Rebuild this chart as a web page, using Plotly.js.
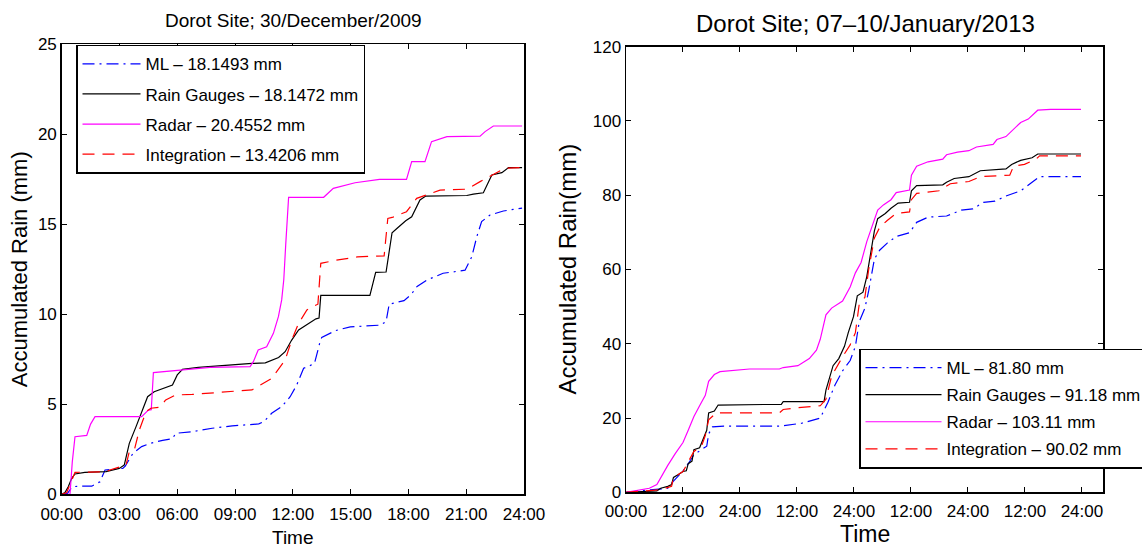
<!DOCTYPE html>
<html>
<head>
<meta charset="utf-8">
<script src="https://cdn.plot.ly/plotly-3.0.1.min.js"></script>
<style>html,body{margin:0;padding:0;background:#fff}#chart{width:1142px;height:549px}</style>
</head>
<body>
<div id="chart"></div>
<script>
// ---------- Left panel: Dorot Site; 30/December/2009 (hours 0..24) ----------
const leftTickVals = [0, 3, 6, 9, 12, 15, 18, 21, 24];
const leftTickText = ["00:00", "03:00", "06:00", "09:00", "12:00", "15:00", "18:00", "21:00", "24:00"];

const leftMLTime = [0, 0.3, 0.55, 0.9, 1.56, 1.99, 2.25, 3.17, 3.3, 3.7, 4.15, 4.6, 5.24, 5.75, 5.92, 6.78, 7.81, 8.85, 10.23, 10.5, 10.9, 11.42, 11.86, 12.2, 12.56, 13.12, 13.4, 13.5, 14.23, 14.98, 16.56, 16.84, 17.0, 17.77, 18.14, 18.45, 18.95, 19.8, 20.94, 21.29, 21.55, 21.8, 22.24, 22.93, 23.9];
const leftMLRain = [0, 0.05, 0.42, 0.45, 0.45, 0.7, 1.35, 1.44, 1.57, 2.28, 2.65, 2.83, 3.0, 3.09, 3.39, 3.48, 3.67, 3.8, 3.91, 4.04, 4.5, 4.87, 5.42, 6.07, 7.0, 7.26, 8.42, 8.72, 9.1, 9.3, 9.4, 9.6, 10.56, 10.76, 11.1, 11.55, 11.9, 12.28, 12.45, 13.2, 14.31, 15.15, 15.52, 15.74, 15.9];

const leftGaugeTime = [0, 0.17, 0.34, 0.52, 0.69, 1.03, 1.2, 2.3, 2.99, 3.25, 3.51, 3.86, 4.2, 4.46, 4.8, 5.24, 5.75, 6.0, 6.27, 7.1, 8.5, 9.88, 10.57, 10.9, 11.26, 11.6, 11.94, 12.3, 12.82, 13.2, 13.36, 13.45, 16.0, 16.3, 16.84, 17.15, 17.4, 17.86, 18.17, 18.6, 18.9, 21.03, 21.37, 21.89, 22.33, 22.85, 23.2, 23.9];
const leftGaugeRain = [0, 0.1, 0.42, 0.89, 1.13, 1.17, 1.22, 1.26, 1.44, 1.63, 2.83, 3.76, 4.68, 5.42, 5.7, 5.89, 6.07, 6.63, 6.94, 7.05, 7.18, 7.27, 7.3, 7.46, 7.6, 7.92, 8.57, 9.13, 9.5, 9.75, 9.79, 11.05, 11.05, 12.33, 12.35, 14.53, 14.77, 15.2, 15.42, 16.35, 16.57, 16.6, 16.68, 16.75, 17.74, 17.87, 18.15, 18.15];

const leftRadarTime = [0, 0.43, 0.55, 0.69, 1.3, 1.5, 1.73, 4.15, 4.5, 4.65, 4.76, 6.14, 7.7, 9.78, 9.95, 10.2, 10.64, 10.99, 11.25, 11.42, 11.53, 11.63, 11.78, 13.6, 14.1, 15.23, 16.5, 17.9, 18.17, 18.86, 19.2, 20.0, 21.72, 21.98, 22.41, 23.9];
const leftRadarRain = [0, 0, 1.8, 3.2, 3.27, 3.9, 4.31, 4.31, 4.68, 4.7, 6.76, 6.9, 7.05, 7.09, 7.37, 8.02, 8.2, 8.94, 9.87, 10.8, 11.93, 13.87, 16.5, 16.5, 17.0, 17.31, 17.5, 17.5, 18.48, 18.48, 19.59, 19.87, 19.9, 20.15, 20.46, 20.46];

const leftIntegTime = [0, 0.26, 0.69, 2.3, 2.5, 3.17, 3.34, 3.51, 3.77, 4.03, 4.38, 4.63, 5.07, 5.4, 5.92, 6.78, 8.5, 9.88, 10.23, 10.9, 11.6, 11.94, 12.3, 12.73, 12.93, 13.3, 13.45, 14.23, 15.35, 16.74, 16.93, 17.2, 17.9, 18.43, 19.64, 21.03, 21.72, 22.33, 23.0, 23.9];
const leftIntegRain = [0, 0.1, 1.22, 1.25, 1.35, 1.59, 1.63, 2.37, 2.46, 3.57, 4.59, 4.78, 4.83, 5.24, 5.52, 5.55, 5.7, 5.8, 6.02, 6.44, 7.46, 8.57, 9.5, 10.24, 10.37, 10.56, 12.83, 13.0, 13.19, 13.25, 15.33, 15.4, 15.7, 16.44, 16.9, 16.95, 17.37, 17.74, 18.11, 18.15];

// ---------- Right panel: Dorot Site; 07-10/January/2013 (hours 0..96) ----------
const rightTickVals = [0, 12, 24, 36, 48, 60, 72, 84, 96];
const rightTickText = ["00:00", "12:00", "24:00", "12:00", "24:00", "12:00", "24:00", "12:00", "24:00"];

const rightMLTime = [0, 6.5, 8.8, 10.0, 12.0, 13.1, 14.3, 15.9, 17.0, 17.4, 18.2, 20.6, 32.3, 37.0, 40.9, 42.5, 44.0, 45.6, 47.2, 48.3, 49.1, 50.3, 51.1, 52.3, 53.4, 55.0, 56.9, 59.7, 61.2, 63.6, 67.5, 70.6, 73.0, 75.3, 77.7, 80.0, 83.1, 85.5, 87.1, 95.8];
const rightMLRain = [0, 0.7, 1.1, 3.0, 5.8, 7.7, 10.1, 11.5, 12.4, 15.7, 17.6, 17.8, 17.8, 18.6, 20.0, 24.2, 28.9, 32.7, 35.5, 39.3, 45.9, 49.6, 54.3, 62.8, 65.2, 67.1, 68.9, 69.9, 72.7, 74.1, 74.4, 76.0, 76.3, 78.1, 78.4, 79.8, 81.2, 83.5, 85.0, 85.0];

const rightGaugeTime = [0, 6.5, 7.3, 8.8, 9.6, 10.0, 11.2, 12.0, 12.7, 13.1, 13.9, 14.3, 15.5, 16.3, 17.0, 17.4, 18.6, 19.4, 32.7, 33.1, 41.7, 42.1, 42.9, 43.6, 44.8, 46.0, 46.8, 47.9, 48.7, 49.9, 50.7, 51.5, 52.3, 53.0, 54.6, 55.8, 57.3, 59.7, 60.1, 61.2, 66.7, 67.5, 69.1, 72.2, 74.6, 80.0, 81.2, 83.1, 85.5, 86.7, 95.8];
const rightGaugeRain = [0, 0.4, 1.1, 1.6, 2.1, 4.0, 4.9, 5.6, 5.8, 7.7, 8.4, 11.5, 12.0, 14.3, 16.7, 21.4, 21.9, 23.5, 23.7, 24.4, 24.4, 27.5, 30.8, 34.1, 36.0, 39.3, 43.0, 47.3, 52.9, 53.9, 58.1, 64.7, 70.4, 73.7, 75.1, 76.5, 77.9, 78.1, 81.2, 82.6, 82.8, 83.5, 84.5, 85.0, 86.6, 87.1, 88.3, 89.4, 90.1, 91.1, 91.1];

const rightRadarTime = [0, 3.0, 4.9, 6.5, 7.3, 8.8, 10.4, 12.0, 13.1, 14.3, 15.5, 16.7, 17.4, 18.6, 19.8, 22.1, 26.0, 32.3, 33.1, 36.2, 38.6, 40.1, 40.9, 42.1, 43.3, 45.6, 47.2, 48.3, 49.5, 50.7, 51.9, 53.0, 54.2, 55.8, 56.9, 59.7, 60.1, 61.2, 63.6, 66.7, 67.5, 69.8, 72.2, 73.8, 77.3, 78.1, 80.0, 81.6, 83.1, 84.7, 86.7, 89.4, 95.8];
const rightRadarRain = [0, 0.66, 1.1, 2.07, 3.96, 7.25, 10.5, 13.4, 16.7, 20.4, 23.3, 26.1, 29.9, 31.7, 32.5, 32.7, 33.2, 33.2, 33.6, 34.1, 36.0, 38.3, 41.2, 47.8, 49.6, 51.5, 55.3, 59.1, 61.9, 67.5, 72.2, 76.0, 77.4, 78.8, 80.7, 81.4, 85.4, 87.8, 89.0, 89.7, 90.9, 91.6, 92.0, 93.0, 93.7, 95.0, 95.8, 97.7, 99.6, 100.5, 102.9, 103.1, 103.1];

const rightIntegTime = [0, 7.3, 9.6, 10.0, 12.0, 13.1, 14.3, 15.9, 16.7, 17.4, 19.0, 32.3, 33.1, 36.2, 40.9, 42.1, 43.3, 45.6, 47.2, 48.3, 49.1, 50.3, 51.1, 52.3, 53.4, 55.0, 56.9, 59.7, 60.1, 61.2, 65.9, 68.3, 72.2, 74.6, 80.8, 81.6, 83.9, 86.3, 87.1, 95.8];
const rightIntegRain = [0, 0.7, 1.6, 4.0, 5.6, 8.2, 11.0, 12.4, 15.3, 19.5, 21.4, 21.4, 22.3, 22.8, 23.3, 25.1, 31.3, 36.5, 39.7, 43.0, 50.6, 52.5, 60.0, 68.5, 71.3, 73.2, 75.1, 75.5, 78.8, 80.5, 81.2, 83.1, 83.7, 85.0, 85.4, 87.8, 88.3, 89.7, 90.6, 90.6];

const leftLabels = ["ML \u2013 18.1493 mm", "Rain Gauges \u2013 18.1472 mm", "Radar \u2013 20.4552 mm", "Integration \u2013 13.4206 mm"];
const rightLabels = ["ML \u2013 81.80 mm", "Rain Gauges \u2013 91.18 mm", "Radar \u2013 103.11 mm", "Integration \u2013 90.02 mm"];
const leftTitle = "Dorot Site; 30/December/2009";
const rightTitle = "Dorot Site; 07\u201310/January/2013";

// ---------- styles ----------
const FONT = "Liberation Sans, Arial, Helvetica, sans-serif";
const styles = [
  {color: "#0000ff", dash: "12px,5px,2px,5px"},
  {color: "#000000", dash: "solid"},
  {color: "#ff00ff", dash: "solid"},
  {color: "#ff0000", dash: "12px,8px"}
];

function mk(x, y, i, name, side) {
  const s = styles[i];
  return {
    type: "scatter", mode: "lines", x: x, y: y, name: name,
    xaxis: side === 0 ? "x" : "x2", yaxis: side === 0 ? "y" : "y2",
    legend: side === 0 ? "legend" : "legend2",
    legendgroup: "g" + side + "_" + i,
    line: {color: s.color, width: 1.2, dash: s.dash},
    hoverinfo: "skip"
  };
}

const data = [
  mk(leftMLTime, leftMLRain, 0, leftLabels[0], 0),
  mk(leftGaugeTime, leftGaugeRain, 1, leftLabels[1], 0),
  mk(leftRadarTime, leftRadarRain, 2, leftLabels[2], 0),
  mk(leftIntegTime, leftIntegRain, 3, leftLabels[3], 0),
  mk(rightMLTime, rightMLRain, 0, rightLabels[0], 1),
  mk(rightGaugeTime, rightGaugeRain, 1, rightLabels[1], 1),
  mk(rightRadarTime, rightRadarRain, 2, rightLabels[2], 1),
  mk(rightIntegTime, rightIntegRain, 3, rightLabels[3], 1)
];

const W = 1142, H = 549;
function axisBase() {
  return {
    showline: true, linecolor: "#000", linewidth: 1.5, mirror: "ticks",
    ticks: "inside", ticklen: 5, tickwidth: 1, tickcolor: "#000",
    showgrid: false, zeroline: false, fixedrange: true,
    tickfont: {family: FONT, size: 17, color: "#000"}
  };
}

const layout = {
  width: W, height: H,
  margin: {l: 0, r: 0, t: 0, b: 0, autoexpand: false},
  paper_bgcolor: "#fff", plot_bgcolor: "#fff",
  font: {family: FONT, size: 17, color: "#000"},
  xaxis: Object.assign(axisBase(), {domain: [61.7 / W, 524 / W], range: [0, 24], tickmode: "array", tickvals: leftTickVals, ticktext: leftTickText, anchor: "y", ticklabelstandoff: 4}),
  yaxis: Object.assign(axisBase(), {domain: [1 - 494.3 / H, 1 - 44.3 / H], range: [0, 25], tickmode: "linear", tick0: 0, dtick: 5, anchor: "x"}),
  xaxis2: Object.assign(axisBase(), {domain: [626 / W, 1103.3 / W], range: [0, 100.5], tickmode: "array", tickvals: rightTickVals, ticktext: rightTickText, anchor: "y2", ticklabelstandoff: 3}),
  yaxis2: Object.assign(axisBase(), {domain: [1 - 492.3 / H, 1 - 46.7 / H], range: [0, 120], tickmode: "linear", tick0: 0, dtick: 20, anchor: "x2"}),
  legend: {x: 76 / W, y: 1 - 44.8 / H, xanchor: "left", yanchor: "top", bgcolor: "#fff", bordercolor: "#000", borderwidth: 1.5,
           font: {family: FONT, size: 17, color: "#000"}, itemwidth: 58, tracegroupgap: 5, traceorder: "grouped"},
  legend2: {x: 859 / W, y: 1 - 348.5 / H, xanchor: "left", yanchor: "top", bgcolor: "#fff", bordercolor: "#000", borderwidth: 1.5,
           font: {family: FONT, size: 17, color: "#000"}, itemwidth: 76, tracegroupgap: 2, traceorder: "grouped"},
  showlegend: true,
  annotations: [
    {text: leftTitle, xref: "paper", yref: "paper", x: 293 / W, y: 1 - 20 / H, xanchor: "center", yanchor: "middle", showarrow: false, font: {family: FONT, size: 19, color: "#000"}},
    {text: rightTitle, xref: "paper", yref: "paper", x: 865 / W, y: 1 - 23.5 / H, xanchor: "center", yanchor: "middle", showarrow: false, font: {family: FONT, size: 24, color: "#000"}},
    {text: "Accumulated Rain (mm)", xref: "paper", yref: "paper", x: 19.6 / W, y: 1 - 269.6 / H, xanchor: "center", yanchor: "middle", textangle: -90, showarrow: false, font: {family: FONT, size: 22, color: "#000"}},
    {text: "Accumulated Rain(mm)", xref: "paper", yref: "paper", x: 568 / W, y: 1 - 269.6 / H, xanchor: "center", yanchor: "middle", textangle: -90, showarrow: false, font: {family: FONT, size: 24, color: "#000"}},
    {text: "Time", xref: "paper", yref: "paper", x: 292.5 / W, y: 1 - 537 / H, xanchor: "center", yanchor: "middle", showarrow: false, font: {family: FONT, size: 19, color: "#000"}},
    {text: "Time", xref: "paper", yref: "paper", x: 864.5 / W, y: 1 - 534 / H, xanchor: "center", yanchor: "middle", showarrow: false, font: {family: FONT, size: 23, color: "#000"}}
  ]
};

Plotly.newPlot("chart", data, layout, {displayModeBar: false, staticPlot: true});
</script>
</body>
</html>
